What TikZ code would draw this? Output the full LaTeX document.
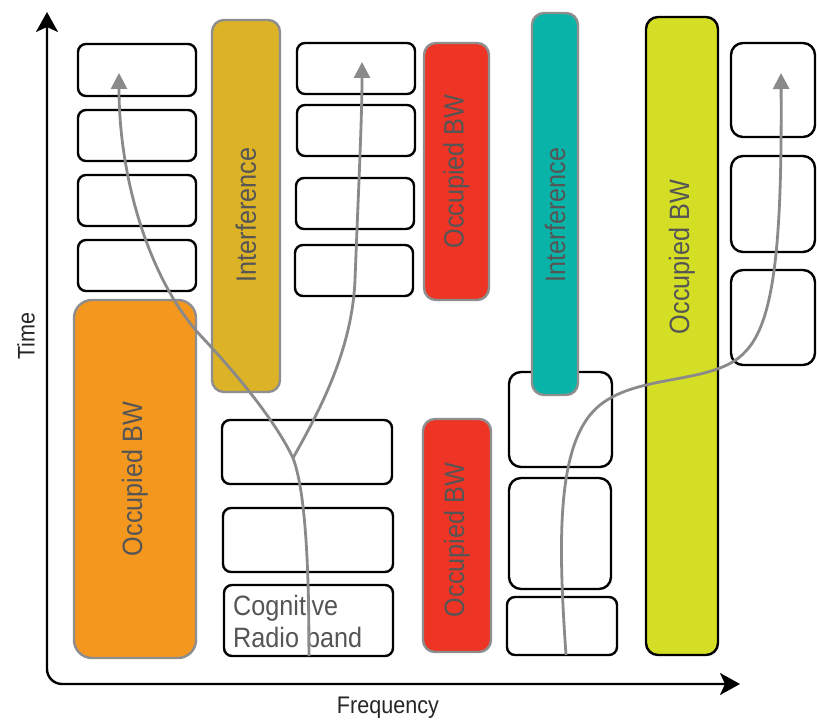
\documentclass[tikz,border=0pt]{standalone}
\usepackage{fontspec}
\setmainfont[FakeStretch=0.9]{Liberation Sans}
\usetikzlibrary{arrows.meta}
\definecolor{cOrange}{HTML}{F4971F}
\definecolor{cYellow}{HTML}{DCB226}
\definecolor{cRed}{HTML}{EE3424}
\definecolor{cTeal}{HTML}{0AB3A7}
\definecolor{cLime}{HTML}{D4DE24}
\definecolor{cBorder}{HTML}{8E8E8E}
\definecolor{cCurve}{HTML}{8A8A8A}
\definecolor{cText}{HTML}{555555}
\tikzset{
  wbox/.style={draw=black, fill=white, line width=2.4pt, rounded corners=8pt, inner sep=0pt},
  cbox/.style={draw=cBorder, line width=2.4pt, rounded corners=12pt, inner sep=0pt},
  boxlabel/.style={text=cText, font=\fontsize{28}{32}\selectfont, rotate=90, inner sep=0pt},
  axislabel/.style={text=black!85, font=\fontsize{24}{28}\selectfont, inner sep=0pt},
  curve/.style={draw=cCurve, line width=2.8pt, -{Triangle[length=16pt,width=16pt]}},
  axis/.style={draw=black, line width=2.4pt, rounded corners=15pt, {Stealth[length=20pt,width=22pt,inset=5pt]}-{Stealth[length=20pt,width=22pt,inset=5pt]}}
}
\begin{document}
\begin{tikzpicture}[x=1pt,y=-1pt]
\useasboundingbox (0,0) rectangle (817,722);
% axes
\coordinate (ytip) at (47,12);
\coordinate (orig) at (47,684);
\coordinate (xtip) at (740,684);
\draw[axis] (ytip) -- (orig) -- (xtip);
\node[axislabel, rotate=90] (time) at (26,336) {Time};
\node[axislabel] (freq) at (388,708) {Frequency};
% left column
\node[wbox, minimum width=118pt, minimum height=52pt] (L1) at (137,70) {};
\node[wbox, minimum width=118pt, minimum height=51pt] (L2) at (137,135.5) {};
\node[wbox, minimum width=118pt, minimum height=51pt] (L3) at (137,200.5) {};
\node[wbox, minimum width=118pt, minimum height=51pt] (L4) at (137,265.5) {};
\node[cbox, fill=cOrange, rounded corners=18pt, minimum width=122pt, minimum height=358pt] (orange) at (135,479) {};
\node[boxlabel] (orangeT) at (orange.center) {Occupied BW};
% yellow interference
\node[cbox, fill=cYellow, minimum width=68pt, minimum height=372pt] (yellow) at (246,206) {};
\node[boxlabel] (yellowT) at (246,215) {Interference};
% middle column
\node[wbox, minimum width=118pt, minimum height=51pt] (M1) at (356,68.5) {};
\node[wbox, minimum width=118pt, minimum height=51pt] (M2) at (356,130.5) {};
\node[wbox, minimum width=118pt, minimum height=51pt] (M3) at (355,203.5) {};
\node[wbox, minimum width=118pt, minimum height=51pt] (M4) at (354,270.5) {};
\node[cbox, fill=cRed, minimum width=65pt, minimum height=257pt] (red1) at (456.5,171.5) {};
\node[boxlabel] (red1T) at (red1.center) {Occupied BW};
% lower middle
\node[wbox, minimum width=170pt, minimum height=64pt] (A) at (307,452) {};
\node[wbox, minimum width=170pt, minimum height=64pt] (B) at (308,540) {};
\node[wbox, minimum width=169pt, minimum height=71pt] (C) at (308.5,620.5) {};
\node[text=cText, font=\fontsize{28}{32}\selectfont, anchor=base west, inner sep=0pt] (C1) at (233,615) {Cognitive};
\node[text=cText, font=\fontsize{28}{32}\selectfont, anchor=base west, inner sep=0pt] (C2) at (233,647) {Radio band};
\node[cbox, fill=cRed, minimum width=68pt, minimum height=233pt] (red2) at (457,535.5) {};
\node[boxlabel] (red2T) at (457,540) {Occupied BW};
% bottom right column
\node[wbox, rounded corners=12pt, minimum width=103pt, minimum height=95pt] (Ra) at (560.5,419.5) {};
\node[wbox, rounded corners=12pt, minimum width=102pt, minimum height=111pt] (Rb) at (560,533.5) {};
\node[wbox, minimum width=110pt, minimum height=58pt] (Rc) at (562,626) {};
% teal interference
\node[cbox, fill=cTeal, minimum width=46pt, minimum height=382pt] (teal) at (555,204) {};
\node[boxlabel] (tealT) at (555,215) {Interference};
% lime
\node[draw=black, fill=cLime, line width=2.4pt, rounded corners=12pt, inner sep=0pt, minimum width=72pt, minimum height=638pt] (lime) at (682,336) {};
\node[boxlabel] (limeT) at (682,257) {Occupied BW};
% right column
\node[wbox, rounded corners=12pt, minimum width=84pt, minimum height=94pt] (R1) at (773,90) {};
\node[wbox, rounded corners=12pt, minimum width=84pt, minimum height=96pt] (R2) at (773,204) {};
\node[wbox, rounded corners=12pt, minimum width=84pt, minimum height=95pt] (R3) at (773,317.5) {};
% curves
\coordinate (s1) at (309,656);
\coordinate (j1) at (293,458);
\coordinate (k1) at (200,335);
\coordinate (t1) at (119,73);
\coordinate (k2) at (355,280);
\coordinate (t2) at (362,62);
\coordinate (s3) at (566,655);
\coordinate (k3) at (600,405);
\coordinate (k4) at (745,352);
\coordinate (t3) at (781,73);
\draw[curve] (s1) .. controls (309,560) and (305,490) .. (j1)
  .. controls (275,420) and (235,372) .. (k1)
  .. controls (150,280) and (119,180) .. (t1);
\draw[curve] (j1) .. controls (320,410) and (352,350) .. (k2)
  .. controls (358,200) and (362,120) .. (t2);
\draw[curve] (s3) .. controls (558,540) and (556,440) .. (k3)
  .. controls (640,373) and (715,385) .. (k4)
  .. controls (775,322) and (782,240) .. (t3);
\end{tikzpicture}
\end{document}
